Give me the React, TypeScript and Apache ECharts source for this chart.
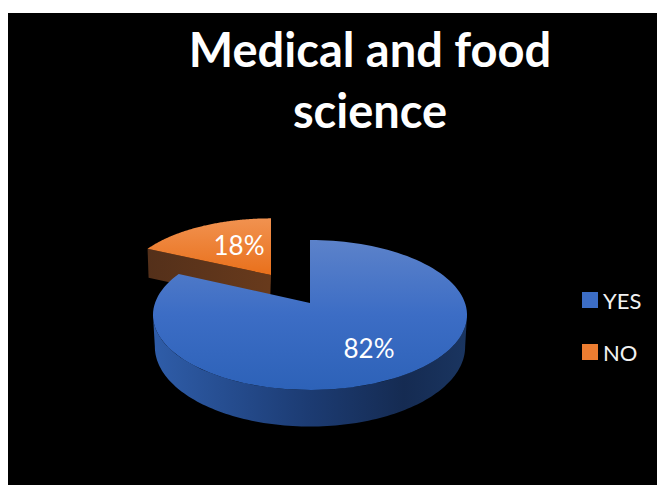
import React, { useEffect, useRef } from "react";
import * as echarts from "echarts";

const chartTitle = "Medical and food\nscience";
const categories = ["YES", "NO"];
const shares = [82, 18];
const fontFamily = "Lato, 'Open Sans', sans-serif";

const total = shares.reduce((a, b) => a + b, 0);
const turn = (share: number) => (share / total) * Math.PI * 2;

// Tilted disc: a unit circle seen in perspective, nearer at the bottom.
const hub = { x: 310, y: 303 };
const radiusX = 155;
const radiusY = 73;
const perspective = 0.16;
const thickness = 31;

type Pose = { x: number; y: number; sx: number; sy: number };

function project(t: number, pose: Pose, r = 1): [number, number] {
  const u = Math.sin(t) * r;
  const v = -Math.cos(t) * r;
  const w = 1 - perspective * v;
  return [pose.x + (pose.sx * radiusX * u) / w, pose.y + (pose.sy * radiusY * v) / w];
}

function rim(from: number, to: number, pose: Pose) {
  const steps = 120;
  const pts: [number, number][] = [];
  for (let i = 0; i <= steps; i++) pts.push(project(from + ((to - from) * i) / steps, pose));
  return pts;
}

const grad = (x2: number, y2: number, stops: [number, string][]) =>
  new echarts.graphic.LinearGradient(
    0,
    0,
    x2,
    y2,
    stops.map(([offset, color]) => ({ offset, color })),
  );

const label = (value: number, x: number, y: number) => ({
  type: "text",
  style: {
    x,
    y,
    text: `${value}%`,
    fill: "#ffffff",
    font: `26px ${fontFamily}`,
    textAlign: "center",
    textVerticalAlign: "middle",
  },
});

// The large slice: front wall along the near rim, then the top face.
function renderYes(_: any, api: any) {
  const value = api.value(0);
  const end = turn(value);
  const pose: Pose = { x: hub.x, y: hub.y, sx: 1, sy: 1 };
  const a = Math.acos(-perspective);
  const near = rim(a, Math.PI * 2 - a, pose);
  const lowered = near
    .map(([x, y]) => {
      const drop = thickness * (1 + (y - hub.y) / 480);
      return [hub.x + (x - hub.x) * 0.988, y + drop] as [number, number];
    })
    .reverse();
  return {
    type: "group",
    children: [
      {
        type: "polygon",
        shape: { points: [...near, ...lowered] },
        style: {
          fill: grad(1, 0, [
            [0, "#2f5da9"],
            [0.25, "#254c8e"],
            [0.5, "#1c3b72"],
            [0.8, "#152b52"],
            [1, "#1a3560"],
          ]),
        },
      },
      {
        type: "polygon",
        shape: { points: [[hub.x, hub.y], ...rim(0, end, pose)] },
        style: {
          fill: grad(0, 1, [
            [0, "#5c82ca"],
            [0.5, "#3c6dc5"],
            [1, "#2d62b8"],
          ]),
        },
      },
      label(value, 369, 348),
    ],
  };
}

// The pulled-out slice: its cut wall shows below the top face.
function renderNo(_: any, api: any) {
  const value = api.value(0);
  const start = turn(total - value);
  const pose: Pose = { x: 271, y: 275, sx: 0.94, sy: 0.9 };
  const outer = project(start, pose);
  const drop = 29;
  return {
    type: "group",
    children: [
      {
        type: "polygon",
        shape: {
          points: [
            [pose.x, pose.y],
            outer,
            [outer[0] + 1, outer[1] + drop],
            [pose.x - 1, pose.y + drop],
          ],
        },
        style: { fill: grad(1, 0, [[0, "#54301a"], [1, "#683a1c"]]) },
      },
      {
        type: "polygon",
        shape: { points: [[pose.x, pose.y], ...rim(start, Math.PI * 2, pose)] },
        style: {
          fill: grad(0, 1, [
            [0, "#f19250"],
            [1, "#e9701b"],
          ]),
        },
      },
      label(value, 239, 245),
    ],
  };
}

export default function App() {
  const ref = useRef<HTMLDivElement>(null);

  useEffect(() => {
    const chart = echarts.init(ref.current!, undefined, { renderer: "svg" });
    chart.setOption({
      animation: false,
      backgroundColor: "#ffffff",
      title: {
        text: chartTitle,
        left: 365,
        top: 13,
        textAlign: "center",
        textStyle: {
          color: "#ffffff",
          fontFamily,
          fontWeight: "bold",
          fontSize: 47,
          lineHeight: 61,
        },
      },
      legend: {
        data: categories,
        orient: "vertical",
        left: 582,
        top: 289,
        padding: 0,
        itemWidth: 16,
        itemHeight: 16,
        itemGap: 30,
        icon: "rect",
        textStyle: { color: "#f2f2f2", fontFamily, fontSize: 22, lineHeight: 16, height: 16 },
      },
      graphic: [
        {
          type: "rect",
          z: -10,
          silent: true,
          shape: { x: 8, y: 13, width: 649, height: 472 },
          style: { fill: "#000000" },
        },
      ],
      series: [
        {
          type: "custom",
          name: categories[1],
          coordinateSystem: "none",
          z: 1,
          itemStyle: { color: "#ed7d31" },
          data: [[shares[1]]],
          renderItem: renderNo,
        },
        {
          type: "custom",
          name: categories[0],
          coordinateSystem: "none",
          z: 2,
          itemStyle: { color: "#3c6dc5" },
          data: [[shares[0]]],
          renderItem: renderYes,
        },
      ],
    });
    return () => chart.dispose();
  }, []);

  return <div ref={ref} style={{ position: "absolute", left: 0, top: 0, width: 657, height: 485 }} />;
}
